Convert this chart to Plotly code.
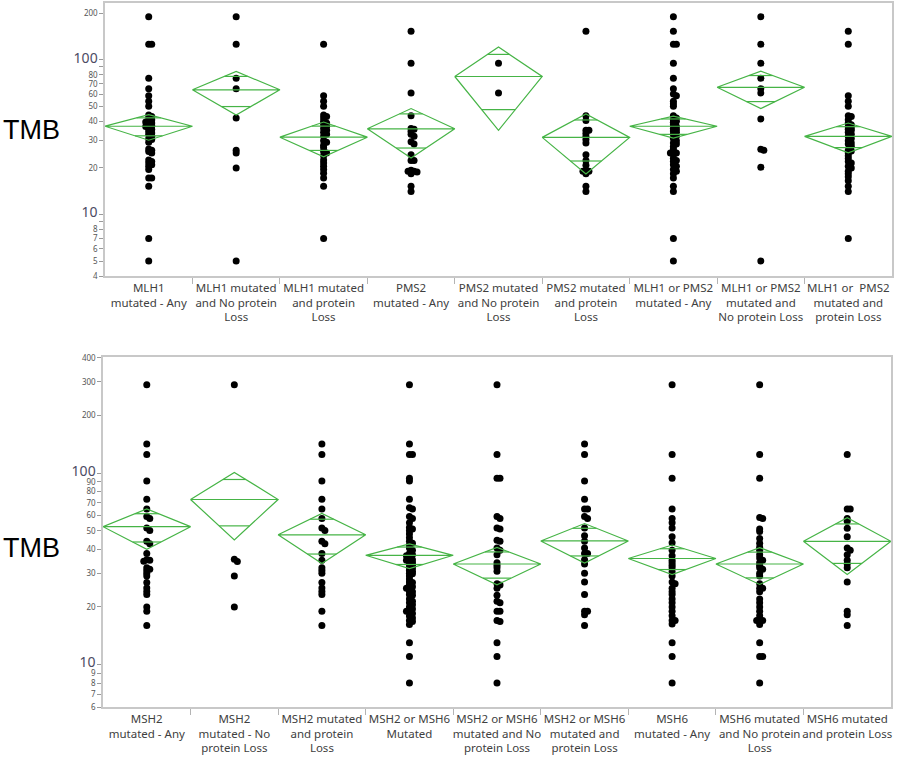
import math
import plotly.graph_objects as go

# ---------------- data ----------------
top_cats = ["MLH1<br>mutated - Any", "MLH1 mutated<br>and No protein<br>Loss",
            "MLH1 mutated<br>and protein<br>Loss", "PMS2<br>mutated - Any",
            "PMS2 mutated<br>and No protein<br>Loss", "PMS2 mutated<br>and protein<br>Loss",
            "MLH1 or PMS2<br>mutated - Any", "MLH1 or PMS2<br>mutated and<br>No protein Loss",
            "MLH1 or  PMS2<br>mutated and<br>protein Loss"]
bot_cats = ["MSH2<br>mutated - Any", "MSH2<br>mutated - No<br>protein Loss",
            "MSH2 mutated<br>and protein<br>Loss", "MSH2 or MSH6<br>Mutated",
            "MSH2 or MSH6<br>mutated and No<br>protein Loss", "MSH2 or MSH6<br>mutated and<br>protein Loss",
            "MSH6<br>mutated - Any", "MSH6 mutated<br>and No protein<br>Loss",
            "MSH6 mutated<br>and protein Loss"]

t1 = [190, 126, 126, 76, 65, 58.6, 54, 50, 44, 43, 42, 41, 40, 39.6, 39, 38, 37.5, 37, 36, 35.4,
      34.5, 33.6, 33, 32, 31, 30.5, 29.3, 26.5, 26, 25.5, 25, 22.5, 22, 21.5, 21, 20.5, 19.5,
      17.2, 17.2, 15.2, 7, 5]
t2 = [190, 126, 76, 65, 42, 26, 25, 20, 5]
t3 = [126, 58.6, 54, 50, 44, 43, 42, 40, 39, 38, 37, 36, 35, 34, 33, 32, 30, 29.3, 28, 27,
      25.5, 25, 24, 22.5, 21.5, 20.5, 19.5, 18.5, 17.2, 15.2, 7]
t4 = [153, 95, 61, 43.5, 36, 35.5, 34.5, 33, 32, 29.5, 28.5, 24.3, 22.3, 22.3, 19.3, 19, 19,
      18.8, 18.3, 15.2, 14.1]
t5 = [95, 61]
t6 = [153, 43.5, 40.5, 35, 35, 33.5, 32, 30.5, 29, 24.3, 22.3, 20.8, 19.2, 19, 19, 18.3, 15.2, 14.1]
t7 = [190, 153, 126, 126, 95, 76, 65, 60, 58.6, 54, 52, 50, 43.5, 42, 41, 40, 39.5, 38, 37, 36,
      35.4, 34.7, 34, 33, 32, 31, 30, 29, 28.5, 27.5, 26.5, 25.5, 25, 25, 24.3, 23, 22.3, 22, 21,
      20.5, 19.5, 19, 18.3, 17.2, 15.2, 14.1, 7, 5]
t8 = [190, 126, 95, 76, 65, 61, 41.5, 26.4, 26, 20.2, 5]
t9 = [153, 126, 58.6, 54, 50, 43.5, 43, 41, 39, 38, 37, 36.3, 35.5, 35, 34, 33, 32, 31, 30, 29,
      28.5, 27.6, 26, 25.7, 25, 24, 23, 22, 21.5, 20.5, 20, 19, 18.3, 17.5, 16.5, 15.2, 14.1, 7]
top_values = [t1, t2, t3, t4, t5, t6, t7, t8, t9]
top_mean = [37.2, 64, 31.6, 35.8, 78, 31.5, 37.2, 66.4, 32]
top_ci = [7, 20, 8, 12.6, 43, 13.2, 6, 18, 7]

b1 = [289, 142, 125, 91, 73, 65, 59.4, 58, 51.6, 50.2, 44, 42.8, 38, 35.3, 35, 34.6, 32, 31.5,
      31, 30, 29, 26.8, 25.1, 24.1, 23.2, 20, 19, 16]
b2 = [289, 35.5, 34.5, 29, 20]
b3 = [142, 125, 91, 73, 65, 58, 51.6, 50.2, 44, 42.8, 38, 35, 32, 31, 30, 26.8, 25.1, 24.1,
      23.2, 19, 16]
b4 = [289, 142, 125, 125, 94, 91, 73, 66, 65, 59.4, 58, 55, 52, 51, 50, 48, 46, 44, 43, 42,
      40.6, 39.5, 38, 37.5, 37, 36, 35.3, 35, 34.6, 34, 33.2, 33, 32, 31.9, 31, 30.7, 30, 29.8,
      29, 28, 27, 26.8, 26, 25.5, 25.1, 25, 24.1, 24, 23.2, 23, 22, 21.4, 21, 20.5, 20, 19.5,
      19, 19, 18.5, 17.9, 17.5, 17, 16.8, 16.2, 13, 11, 8]
b5 = [289, 125, 94, 94, 59.4, 58, 51.6, 51, 44.6, 44, 40.6, 39.5, 37.5, 34, 33, 32, 30.7, 26.4,
      26, 25, 23, 21.4, 21, 19, 19, 17, 16.8, 13, 11, 8]
b6 = [142, 125, 91, 73, 65, 65, 59.4, 58, 51.6, 47, 44, 40.6, 38, 38, 35.3, 33.5, 30, 27, 23.2,
      19, 19, 18.2, 16]
b7 = [289, 125, 94, 65, 58, 55, 51.6, 46.5, 43.2, 39.5, 37, 35, 34, 33, 32, 30.5, 29, 27, 26.4,
      25, 24, 23.2, 22, 21, 20, 19, 18, 17, 17, 16.3, 13, 11, 8]
b8 = [289, 125, 94, 58.6, 58, 51, 49.5, 45.5, 43, 41, 39.5, 37.5, 36, 35, 34, 33, 32, 31.5, 30,
      29, 26.4, 25, 25, 24, 22, 21, 20, 19, 18, 17, 17, 17, 16.2, 13, 11, 11, 8]
b9 = [125, 65, 65, 58, 56, 51.5, 46.5, 40.6, 39.5, 37.5, 35, 33.5, 32, 27, 19, 18.2, 16]
bot_values = [b1, b2, b3, b4, b5, b6, b7, b8, b9]
bot_mean = [52.5, 72.8, 47.6, 37.2, 33.5, 44.2, 35.8, 33.5, 44]
bot_ci = [12.5, 28, 13.9, 5.5, 7.4, 10.3, 6.3, 7.3, 14.5]

top_ticks = [4, 5, 6, 7, 8, 9, 10, 20, 30, 40, 50, 60, 70, 80, 90, 100, 200]
top_tick_labels = ["4", "5", "6", "7", "8", "", "10", "20", "30", "40", "50", "60", "70", "80", "", "100", "200"]
bot_ticks = [6, 7, 8, 9, 10, 20, 30, 40, 50, 60, 70, 80, 90, 100, 200, 300, 400]
bot_tick_labels = ["6", "7", "8", "9", "10", "20", "30", "40", "50", "60", "70", "80", "90", "100", "200", "300", "400"]

# ---------------- layout constants ----------------
W, H = 900, 757
GREEN = "#46b446"
CAT_PX = 87.5


def px_x(p):
    return p / W


def px_y(p):
    return 1 - p / H


def fmt_ticks(labels):
    out = []
    for t in labels:
        if t in ("10", "100"):
            out.append('<span style="font-size:14px;color:#4b4b63">%s</span>' % t)
        elif t == "":
            out.append("")
        else:
            out.append('<span style="font-size:8px;color:#555555">%s</span>' % t)
    return out


def jitter(vals, ppd):
    """simple beeswarm-like placement in pixel space -> x offsets in category units"""
    placed = []
    order = sorted(range(len(vals)), key=lambda k: -vals[k])
    res = [0.0] * len(vals)
    cands = [0, 3, -3, 6, -6, 9, -9, 12, -12]
    for k in order:
        py = math.log10(vals[k]) * ppd
        for c in cands:
            ok = True
            for (px, qy) in placed:
                if (px - c) ** 2 + (qy - py) ** 2 < 2.4 ** 2:
                    ok = False
                    break
            if ok:
                break
        placed.append((c, py))
        res[k] = c / CAT_PX
    return res


fig = go.Figure()


def add_panel(values, means, cis, xa, ya, ppd):
    for i, vals in enumerate(values):
        offs = jitter(vals, ppd)
        fig.add_trace(go.Scatter(
            x=[i + o for o in offs], y=vals, mode="markers",
            marker=dict(color="black", size=7, line=dict(width=0)),
            xaxis=xa, yaxis=ya, showlegend=False, hoverinfo="y"))
        m, h = means[i], cis[i]
        lo, hi = m - h, m + h
        fig.add_trace(go.Scatter(
            x=[i - 0.5, i, i + 0.5, i, i - 0.5, i + 0.5], y=[m, hi, m, lo, m, m],
            mode="lines", line=dict(color=GREEN, width=1.2),
            xaxis=xa, yaxis=ya, showlegend=False, hoverinfo="skip"))
        k = h / math.sqrt(2)
        for v, edge in ((m + k, hi), (m - k, lo)):
            f = abs(math.log10(v) - math.log10(m)) / abs(math.log10(edge) - math.log10(m))
            hw = 0.5 * (1 - f)
            fig.add_trace(go.Scatter(
                x=[i - hw, i + hw], y=[v, v], mode="lines",
                line=dict(color=GREEN, width=1.2),
                xaxis=xa, yaxis=ya, showlegend=False, hoverinfo="skip"))


add_panel(top_values, top_mean, top_ci, "x", "y", 155)
add_panel(bot_values, bot_mean, bot_ci, "x2", "y2", 191.7)

xcommon = dict(range=[-0.5, 8.5], tickmode="array", tickvals=list(range(9)),
               ticks="", showline=True, mirror=True, linecolor="#c8c8c8", linewidth=1.5,
               showgrid=False, zeroline=False, automargin=False, tickangle=0,
               tickfont=dict(family="Noto Sans", size=11.5, color="#404040"),
               minor=dict(tickmode="array", tickvals=[i + 0.5 for i in range(8)],
                          ticks="outside", ticklen=6, tickcolor="#b4b4b4", tickwidth=1))
ycommon = dict(type="log", tickmode="array", ticks="outside", ticklen=4, tickcolor="#9a9a9a",
               showline=True, mirror=True, linecolor="#c8c8c8", linewidth=1.5,
               showgrid=False, zeroline=False, automargin=False,
               tickfont=dict(family="Noto Sans", size=8, color="#555555"))

fig.update_layout(
    width=W, height=H, margin=dict(l=0, r=0, t=0, b=0, autoexpand=False),
    paper_bgcolor="white", plot_bgcolor="white",
    xaxis=dict(xcommon, domain=[px_x(105), px_x(892)], anchor="y", ticktext=top_cats),
    yaxis=dict(ycommon, domain=[px_y(276), px_y(3)], anchor="x",
               range=[math.log10(4), math.log10(233)],
               tickvals=top_ticks, ticktext=fmt_ticks(top_tick_labels)),
    xaxis2=dict(xcommon, domain=[px_x(103), px_x(891)], anchor="y2", ticktext=bot_cats),
    yaxis2=dict(ycommon, domain=[px_y(707), px_y(357)], anchor="x2",
                range=[math.log10(6), math.log10(404)],
                tickvals=bot_ticks, ticktext=fmt_ticks(bot_tick_labels)),
    annotations=[
        dict(text="TMB", x=px_x(31), y=px_y(130), xref="paper", yref="paper",
             xanchor="center", yanchor="middle",
             showarrow=False, font=dict(family="Liberation Sans", size=27, color="black")),
        dict(text="TMB", x=px_x(31), y=px_y(548), xref="paper", yref="paper",
             xanchor="center", yanchor="middle",
             showarrow=False, font=dict(family="Liberation Sans", size=27, color="black")),
    ],
)

# remove the browser's default 8px page margin so the figure sits at the window origin
fig.write_html("out.html", config={"displayModeBar": False},
               post_script="document.body.style.margin='0';document.body.style.padding='0';")
